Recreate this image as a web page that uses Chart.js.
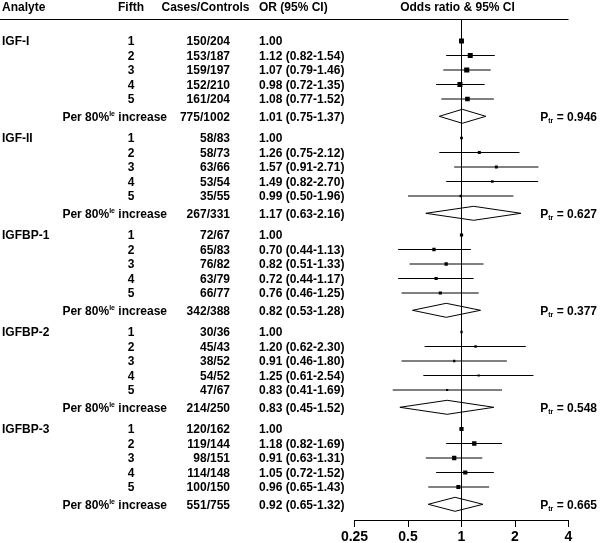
<!DOCTYPE html>
<html>
<head>
<meta charset="utf-8">
<script src="https://cdn.jsdelivr.net/npm/chart.js@4.4.0/dist/chart.umd.min.js"></script>
<style>
  html, body { margin: 0; padding: 0; background: #fff; }
  canvas { display: block; }
</style>
</head>
<body>
<canvas id="forest" width="600" height="543"></canvas>
<script>
const analytes = ['IGF-I', 'IGF-II', 'IGFBP-1', 'IGFBP-2', 'IGFBP-3'];
const fifths = ['1', '2', '3', '4', '5'];
const casesControls = [
  ['150/204', '153/187', '159/197', '152/210', '161/204'],
  ['58/83', '58/73', '63/66', '53/54', '35/55'],
  ['72/67', '65/83', '76/82', '63/79', '66/77'],
  ['30/36', '45/43', '38/52', '54/52', '47/67'],
  ['120/162', '119/144', '98/151', '114/148', '100/150']
];
const orValues = [
  [1.00, 1.12, 1.07, 0.98, 1.08],
  [1.00, 1.26, 1.57, 1.49, 0.99],
  [1.00, 0.70, 0.82, 0.72, 0.76],
  [1.00, 1.20, 0.91, 1.25, 0.83],
  [1.00, 1.18, 0.91, 1.05, 0.96]
];
const ciLow = [
  [null, 0.82, 0.79, 0.72, 0.77],
  [null, 0.75, 0.91, 0.82, 0.50],
  [null, 0.44, 0.51, 0.44, 0.46],
  [null, 0.62, 0.46, 0.61, 0.41],
  [null, 0.82, 0.63, 0.72, 0.65]
];
const ciHigh = [
  [null, 1.54, 1.46, 1.35, 1.52],
  [null, 2.12, 2.71, 2.70, 1.96],
  [null, 1.13, 1.33, 1.17, 1.25],
  [null, 2.30, 1.80, 2.54, 1.69],
  [null, 1.69, 1.31, 1.52, 1.43]
];
const trendCases = ['775/1002', '267/331', '342/388', '214/250', '551/755'];
const trendOR = [1.01, 1.17, 0.82, 0.83, 0.92];
const trendLow = [0.75, 0.63, 0.53, 0.45, 0.65];
const trendHigh = [1.37, 2.16, 1.28, 1.52, 1.32];
const pTrend = ['0.946', '0.627', '0.377', '0.548', '0.665'];
const xTicks = [0.25, 0.5, 1, 2, 4];
const xTickLabels = ['0.25', '0.5', '1', '2', '4'];

// layout of the rows (y = px below the header rule)
const FIRST_ROW = 22, GROUP_STEP = 97, ROW_STEP = 14.5, TREND_OFFSET = 75.3;
const rowY = (g, k) => FIRST_ROW + GROUP_STEP * g + ROW_STEP * k;
const trendY = g => FIRST_ROW + GROUP_STEP * g + TREND_OFFSET;

const FONT = '"Liberation Sans", Arial, Helvetica, sans-serif';
const fontMain = 'bold 12px ' + FONT;
const fontSmall = 'bold 7px ' + FONT;

// box side from the CI width (inverse of the SE)
const boxSide = (lo, hi) => 0.8 / ((Math.log(hi) - Math.log(lo)) / 3.92);

const datasets = [];
const line = (data) => ({
  data, showLine: true, borderColor: '#000', borderWidth: 1,
  pointRadius: 0, tension: 0, fill: false
});

// reference line at OR = 1
datasets.push(line([{ x: 1, y: 0 }, { x: 1, y: 501 }]));

const boxPts = [];
const boxRadius = [];

analytes.forEach((a, g) => {
  const sides = [];
  orValues[g].forEach((v, k) => {
    if (ciLow[g][k] == null) return;
    datasets.push(line([{ x: ciLow[g][k], y: rowY(g, k) }, { x: ciHigh[g][k], y: rowY(g, k) }]));
    sides.push(boxSide(ciLow[g][k], ciHigh[g][k]));
  });
  const meanSide = sides.reduce((s, v) => s + v, 0) / sides.length;
  orValues[g].forEach((v, k) => {
    const side = ciLow[g][k] == null ? meanSide : boxSide(ciLow[g][k], ciHigh[g][k]);
    boxPts.push({ x: v, y: rowY(g, k) });
    boxRadius.push(side / Math.SQRT2);
  });
  // diamond for the per 80%le increase
  const y = trendY(g);
  datasets.push(line([
    { x: trendLow[g], y },
    { x: trendOR[g], y: y - 7 },
    { x: trendHigh[g], y },
    { x: trendOR[g], y: y + 7 },
    { x: trendLow[g], y }
  ]));
});

datasets.push({
  data: boxPts,
  pointStyle: 'rect',
  pointRadius: boxRadius,
  pointBackgroundColor: '#000',
  pointBorderWidth: 0,
  showLine: false
});

const tablePlugin = {
  id: 'tableText',
  afterDraw(chart) {
    const ctx = chart.ctx;
    const ys = chart.scales.y;
    const xs = chart.scales.x;
    ctx.save();
    ctx.fillStyle = '#000';
    ctx.textBaseline = 'alphabetic';
    ctx.font = fontMain;

    const text = (s, x, y, align) => {
      ctx.textAlign = align;
      ctx.fillText(s, x, y);
    };

    // header
    text('Analyte', 2, 11, 'left');
    text('Fifth', 131, 11, 'center');
    text('Cases/Controls', 205.5, 11, 'center');
    text('OR (95% CI)', 259, 11, 'left');
    text('Odds ratio & 95% CI', 457.5, 11, 'center');
    ctx.fillRect(0, 19, xs.right, 1);

    const fmt = v => v.toFixed(2);

    analytes.forEach((a, g) => {
      ctx.font = fontMain;
      const y0 = ys.getPixelForValue(rowY(g, 0)) + 4.3;
      text(a, 2, y0, 'left');
      fifths.forEach((f, k) => {
        const y = ys.getPixelForValue(rowY(g, k)) + 4.3;
        text(f, 131, y, 'center');
        text(casesControls[g][k], 230, y, 'right');
        const orTxt = ciLow[g][k] == null
          ? fmt(orValues[g][k])
          : fmt(orValues[g][k]) + ' (' + fmt(ciLow[g][k]) + '-' + fmt(ciHigh[g][k]) + ')';
        text(orTxt, 259, y, 'left');
      });

      // per 80%le increase row
      const yt = ys.getPixelForValue(trendY(g)) + 4.3;
      ctx.font = fontMain;
      const w1 = ctx.measureText('Per 80%').width;
      const w3 = ctx.measureText(' increase').width;
      ctx.font = fontSmall;
      const w2 = ctx.measureText('le').width;
      let x = 167 - (w1 + w2 + w3);
      ctx.font = fontMain;
      text('Per 80%', x, yt, 'left');
      ctx.font = fontSmall;
      text('le', x + w1, yt - 4.5, 'left');
      ctx.font = fontMain;
      text(' increase', x + w1 + w2, yt, 'left');

      text(trendCases[g], 230, yt, 'right');
      text(fmt(trendOR[g]) + ' (' + fmt(trendLow[g]) + '-' + fmt(trendHigh[g]) + ')', 259, yt, 'left');

      // P for trend
      const rest = ' = ' + pTrend[g];
      const wr = ctx.measureText(rest).width;
      const wp = ctx.measureText('P').width;
      ctx.font = fontSmall;
      const ws = ctx.measureText('tr').width;
      x = 597 - (wp + ws + wr);
      ctx.font = fontMain;
      text('P', x, yt, 'left');
      ctx.font = fontSmall;
      text('tr', x + wp, yt + 2.5, 'left');
      ctx.font = fontMain;
      text(rest, x + wp + ws, yt, 'left');
    });
    ctx.restore();
  }
};

new Chart(document.getElementById('forest'), {
  type: 'scatter',
  data: { datasets },
  options: {
    responsive: false,
    animation: false,
    events: [],
    layout: { padding: { left: 354.5, right: 31.5, top: 19, bottom: 0 } },
    plugins: {
      legend: { display: false },
      tooltip: { enabled: false }
    },
    scales: {
      x: {
        type: 'logarithmic',
        position: 'bottom',
        min: 0.25,
        max: 4,
        afterBuildTicks: s => { s.ticks = xTicks.map(v => ({ value: v })); },
        afterFit: s => { s.height = 23; },
        grid: { display: true, drawOnChartArea: false, drawTicks: true, tickLength: 7, color: '#000', lineWidth: 1 },
        border: { display: true, color: '#000', width: 1 },
        ticks: {
          color: '#000',
          font: { family: FONT, size: 14, weight: 'bold' },
          padding: 2,
          maxRotation: 0,
          autoSkip: false,
          callback: (v, i) => xTickLabels[i]
        }
      },
      y: { type: 'linear', min: 0, max: 501, reverse: true, display: false }
    }
  },
  plugins: [tablePlugin]
});
</script>
</body>
</html>
